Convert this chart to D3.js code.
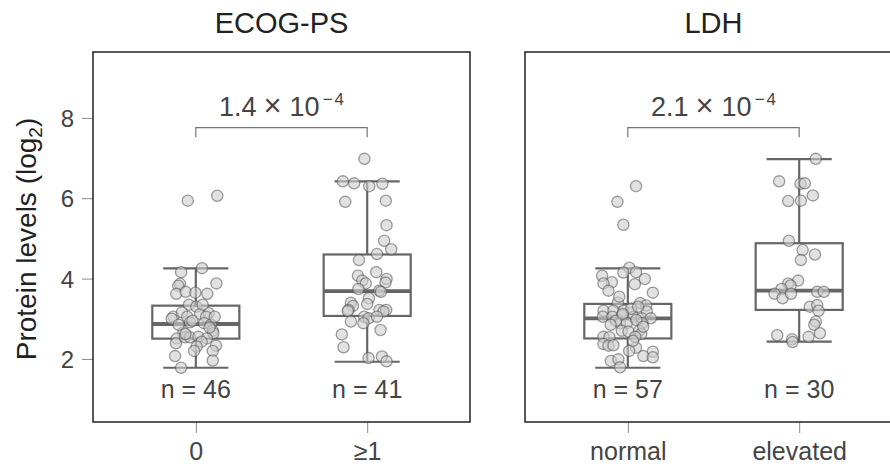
<!DOCTYPE html>
<html><head><meta charset="utf-8">
<script src="https://cdn.jsdelivr.net/npm/d3@7"></script>
<style>body{margin:0;background:#fff}svg{display:block}text{font-family:"Liberation Sans",Arial,sans-serif}</style>
</head><body>
<script>
// ---- data ----
const panelTitles = ["ECOG-PS", "LDH"];
const categories = [["0", "≥1"], ["normal", "elevated"]];
const nCounts = [[46, 41], [57, 30]];
const pMantissa = ["1.4", "2.1"];
const pExponent = ["−", "4"];
const yTicks = [2, 4, 6, 8];
const yTickLabels = ["2", "4", "6", "8"];
const yTitle = "Protein levels (log";

// box statistics per panel [group1, group2]
const boxQ1 = [[2.505, 3.07], [2.51, 3.22]];
const boxMedian = [[2.87, 3.69], [3.01, 3.70]];
const boxQ3 = [[3.326, 4.60], [3.37, 4.88]];
const whiskerLo = [[1.78, 1.93], [1.78, 2.43]];
const whiskerHi = [[4.256, 6.42], [4.256, 6.975]];

// individual observations (value, horizontal jitter in category units)
const ecog0Values = [5.94,6.06,4.26,4.16,3.87,3.88,3.82,3.62,3.67,3.65,3.62,3.35,3.30,3.05,3.00,3.16,3.05,2.91,3.12,3.14,3.05,2.89,2.85,2.70,2.64,2.66,2.51,2.39,2.54,2.54,2.55,2.51,2.43,2.33,2.31,2.20,2.20,2.07,1.96,1.78,2.95,2.78,2.85,3.35,3.05,2.62];
const ecog0Jitter = [-0.047,0.125,0.036,-0.086,-0.092,0.12,-0.102,-0.114,-0.059,-0.003,0.067,-0.04,0.003,-0.131,-0.141,-0.081,-0.05,-0.034,0.025,0.075,0.06,0.048,0.089,0.099,0.102,-0.073,-0.111,-0.116,-0.063,-0.034,0.015,0.064,0.034,0.118,0.005,0.099,-0.01,-0.121,0.099,-0.086,-0.02,0.08,-0.1,0.04,0.11,-0.06];
const ecog1Values = [6.98,6.42,6.37,6.30,6.36,5.91,5.94,5.33,4.94,4.73,4.61,4.46,4.16,4.07,3.95,3.88,3.99,3.90,3.74,3.70,3.67,3.51,3.40,3.37,3.32,3.22,3.19,3.22,3.22,3.18,3.05,3.01,3.05,2.93,2.89,2.72,2.61,2.29,2.02,2.06,1.94];
const ecog1Jitter = [-0.016,-0.142,-0.076,0.012,0.089,-0.128,0.109,0.113,0.099,0.14,0.057,-0.048,0.053,-0.054,-0.029,-0.008,0.113,0.107,-0.051,0.07,0.08,0.01,-0.095,0,-0.083,-0.109,-0.113,0.072,0.111,0.095,-0.018,0.008,0.057,-0.095,-0.022,0.078,-0.148,-0.138,0.008,0.086,0.113];
const ldhNormValues = [6.30,5.91,5.34,4.27,4.15,4.16,4.07,3.91,3.88,3.99,3.86,3.70,3.65,3.40,3.39,3.33,3.20,3.20,3.20,3.15,3.18,3.05,3.05,3.09,3.05,3.01,3.01,2.89,2.89,2.89,2.70,2.68,2.70,2.62,2.55,2.55,2.54,2.37,2.33,2.34,2.28,2.20,2.18,2.07,2.04,1.95,1.99,1.79,3.25,2.95,2.97,3.12,2.80,2.85,2.45,3.55,3.30];
const ldhNormJitter = [0.048,-0.061,-0.026,0.009,-0.026,0.048,-0.15,-0.093,-0.142,0.099,0.041,-0.113,0.146,-0.058,0.072,0.107,-0.142,-0.084,-0.026,0.023,0.111,-0.146,-0.09,-0.032,0.033,0.082,0.134,-0.045,-0.006,0.085,-0.035,0.004,0.066,0.078,0.043,-0.142,-0.107,-0.142,-0.113,-0.084,0.048,0.008,0.146,0.091,0.146,-0.099,-0.055,-0.045,0.02,-0.07,0.05,-0.03,0.09,-0.1,0.03,-0.05,0.06];
const ldhElevValues = [6.98,6.42,6.36,6.37,6.07,5.93,5.94,4.94,4.71,4.60,4.46,3.95,3.88,3.83,3.74,3.62,3.51,3.62,3.67,3.67,3.30,3.34,3.20,2.93,2.85,2.64,2.59,2.49,2.42,2.55];
const ldhElevJitter = [0.097,-0.117,0.008,0.033,0.08,-0.064,0.01,-0.06,0.02,0.092,0.01,-0.006,-0.064,-0.05,-0.103,-0.144,-0.097,-0.048,0.105,0.144,0.062,0.105,0.113,0.097,0.088,0.121,-0.128,-0.041,-0.039,0.055];

const pointValues = [[ecog0Values, ecog1Values], [ldhNormValues, ldhElevValues]];
const pointJitter = [[ecog0Jitter, ecog1Jitter], [ldhNormJitter, ldhElevJitter]];

// ---- layout ----
const W = 890, H = 472;
const panelLeft = [93, 525], panelW = 377, panelTop = 52, panelBottom = 422;
const svg = d3.select("body").append("svg").attr("width", W).attr("height", H);

const y = d3.scaleLinear().domain([0.43, 9.64]).range([panelBottom, panelTop]);

const boxColor = "#666", textCol = "#444";

panelTitles.forEach((title, p) => {
  const left = panelLeft[p];
  const x = d3.scaleLinear().domain([0.4, 2.6]).range([left, left + panelW]);
  const g = svg.append("g");

  // title
  g.append("text").attr("x", left + panelW / 2).attr("y", 33)
    .attr("text-anchor", "middle").attr("font-size", 29).attr("fill", "#222").text(title);

  // x axis
  const xAxis = d3.axisBottom(x).tickValues([1, 2]).tickSize(11).tickPadding(0)
    .tickFormat((d, i) => categories[p][i]);
  const xa = g.append("g").attr("transform", `translate(0,${panelBottom})`).call(xAxis);
  xa.select(".domain").remove();
  xa.selectAll(".tick line").attr("stroke", "#888").attr("stroke-width", 1);
  xa.selectAll(".tick text").attr("font-size", 25).attr("fill", textCol)
    .attr("font-family", '"Liberation Sans",Arial,sans-serif')
    .attr("dy", null).attr("y", 38);

  if (p === 0) {
    const yAxis = d3.axisLeft(y).tickValues(yTicks).tickSize(11).tickPadding(0)
      .tickFormat((d, i) => yTickLabels[i]);
    const ya = g.append("g").attr("transform", `translate(${left},0)`).call(yAxis);
    ya.select(".domain").remove();
    ya.selectAll(".tick line").attr("stroke", "#888").attr("stroke-width", 1);
    ya.selectAll(".tick text").attr("font-size", 24).attr("fill", textCol)
      .attr("font-family", '"Liberation Sans",Arial,sans-serif')
      .attr("x", -19).attr("dy", "0.36em");
    // y title
    const yt = g.append("text").attr("transform", `translate(36,${(panelTop + panelBottom) / 2 + 2}) rotate(-90)`)
      .attr("text-anchor", "middle").attr("font-size", 28).attr("fill", "#222");
    yt.append("tspan").text(yTitle);
    yt.append("tspan").attr("font-size", 19).attr("dy", 6).text("2");
    yt.append("tspan").attr("dy", -6).text(")");
  }

  // boxes
  [0, 1].forEach(k => {
    const cx = k + 1;
    const bw = 0.254, cw = 0.19;
    g.append("line").attr("x1", x(cx)).attr("x2", x(cx))
      .attr("y1", y(whiskerHi[p][k])).attr("y2", y(boxQ3[p][k]))
      .attr("stroke", boxColor).attr("stroke-width", 2.2);
    g.append("line").attr("x1", x(cx)).attr("x2", x(cx))
      .attr("y1", y(boxQ1[p][k])).attr("y2", y(whiskerLo[p][k]))
      .attr("stroke", boxColor).attr("stroke-width", 2.2);
    [whiskerHi[p][k], whiskerLo[p][k]].forEach(v => {
      g.append("line").attr("x1", x(cx - cw)).attr("x2", x(cx + cw))
        .attr("y1", y(v)).attr("y2", y(v)).attr("stroke", boxColor).attr("stroke-width", 2.2);
    });
    g.append("rect").attr("x", x(cx - bw)).attr("width", x(cx + bw) - x(cx - bw))
      .attr("y", y(boxQ3[p][k])).attr("height", y(boxQ1[p][k]) - y(boxQ3[p][k]))
      .attr("fill", "none").attr("stroke", boxColor).attr("stroke-width", 2.2);
    g.append("line").attr("x1", x(cx - bw)).attr("x2", x(cx + bw))
      .attr("y1", y(boxMedian[p][k])).attr("y2", y(boxMedian[p][k]))
      .attr("stroke", boxColor).attr("stroke-width", 3.8);

    // points
    const vals = pointValues[p][k], jit = pointJitter[p][k];
    g.selectAll(null).data(vals.map((v, i) => [jit[i], v])).enter().append("circle")
      .attr("cx", d => x(cx + d[0])).attr("cy", d => y(d[1])).attr("r", 5.6)
      .attr("fill", "rgba(205,205,205,0.6)").attr("stroke", "rgba(80,80,80,0.55)").attr("stroke-width", 1.3);

    // n labels
    g.append("text").attr("x", x(cx)).attr("y", y(1.03)).attr("text-anchor", "middle")
      .attr("font-size", 25).attr("fill", textCol).text(`n = ${nCounts[p][k]}`);
  });

  // significance bracket
  const bY = y(7.76), bEnd = y(7.52);
  g.append("path").attr("d", `M${x(1)},${bEnd}V${bY}H${x(2)}V${bEnd}`)
    .attr("fill", "none").attr("stroke", "#777").attr("stroke-width", 1.2);
  const pt = g.append("text").attr("x", x(1.5)).attr("y", y(8.04)).attr("text-anchor", "middle")
    .attr("font-size", 27).attr("fill", textCol);
  pt.append("tspan").text(pMantissa[p]);
  pt.append("tspan").attr("dx", 7).attr("font-size", 31).text("×");
  pt.append("tspan").attr("dx", 8).text("10");
  pt.append("tspan").attr("font-size", 17).attr("dx", 3).attr("dy", -11).text(pExponent[0]);
  pt.append("tspan").attr("font-size", 17).attr("dx", 2).text(pExponent[1]);

  // panel border
  g.append("rect").attr("x", left).attr("y", panelTop).attr("width", panelW)
    .attr("height", panelBottom - panelTop).attr("fill", "none").attr("stroke", "#222").attr("stroke-width", 1.5);
});
</script>
</body></html>
